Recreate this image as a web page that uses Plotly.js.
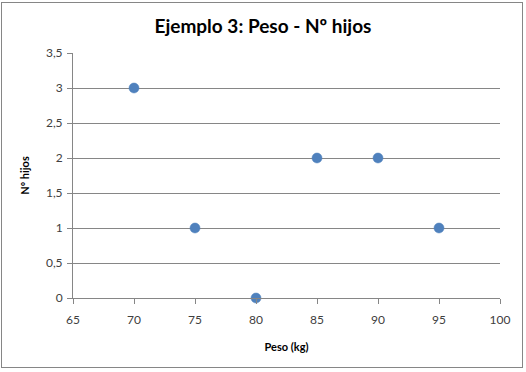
<!DOCTYPE html>
<html>
<head>
<meta charset="utf-8">
<script src="https://cdn.plot.ly/plotly-3.0.1.min.js"></script>
<style>
body{margin:0;padding:0;background:#fff;}
#wrap{position:relative;width:526px;height:372px;}
#chart{width:526px;height:372px;}
#border{position:absolute;left:1px;top:2px;width:522px;height:366px;border:1px solid #868686;box-sizing:border-box;pointer-events:none;}
</style>
</head>
<body>
<div id="wrap"><div id="chart"></div><div id="border"></div></div>
<script>
const peso = [70, 75, 80, 85, 90, 95];
const hijos = [3, 1, 0, 2, 2, 1];
const chartTitle = "Ejemplo 3: Peso - Nº hijos";
const xTitle = "Peso (kg)";
const yTitle = "Nº hijos";

const fontFam = "Lato, 'Open Sans', sans-serif";
Plotly.newPlot('chart', [{
  x: peso, y: hijos, type: 'scatter', mode: 'markers', cliponaxis: false,
  marker: {color: '#4F81BD', size: 10, line: {color: '#4A7EBB', width: 0.5}},
  hoverinfo: 'none'
}], {
  width: 526, height: 372,
  margin: {l: 73, r: 26, t: 53, b: 74},
  paper_bgcolor: '#fff', plot_bgcolor: '#fff',
  separators: ', ',
  showlegend: false,
  title: {text: '<b>' + chartTitle + '</b>', x: 0.5, xanchor: 'center', y: 0.928, yanchor: 'middle',
    font: {family: fontFam, size: 19, color: '#000'}},
  xaxis: {range: [65, 100], dtick: 5, tick0: 65, showgrid: false, zeroline: false,
    showline: true, linecolor: '#868686', linewidth: 1,
    ticks: 'outside', ticklen: 5, tickcolor: '#868686', ticklabelstandoff: 6,
    tickfont: {family: fontFam, size: 12, color: '#404040'},
    title: {text: '<b>' + xTitle + '</b>', font: {family: fontFam, size: 11, color: '#000'}, standoff: 16}},
  yaxis: {range: [0, 3.5], dtick: 0.5, tick0: 0, showgrid: true, gridcolor: '#868686', gridwidth: 1,
    zeroline: false, showline: true, linecolor: '#868686', linewidth: 1,
    ticks: 'outside', ticklen: 5, tickcolor: '#868686', ticklabelstandoff: 2,
    tickfont: {family: fontFam, size: 12, color: '#404040'},
    title: {text: '<b>' + yTitle + '</b>', font: {family: fontFam, size: 11, color: '#000'}, standoff: 14}}
}, {staticPlot: true});
</script>
</body>
</html>
